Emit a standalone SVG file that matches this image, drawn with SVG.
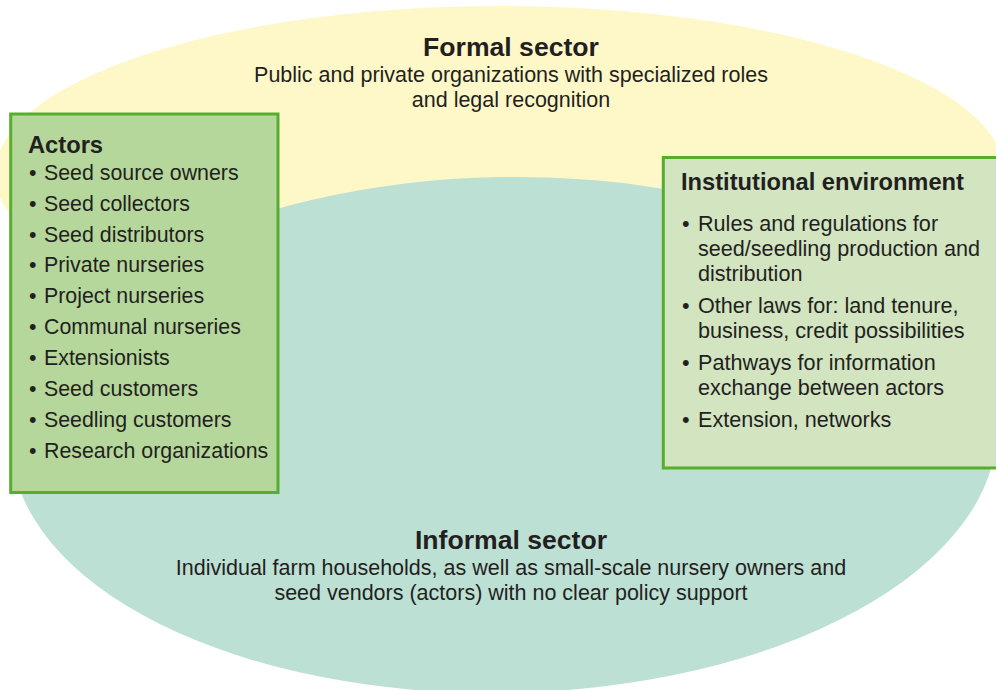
<svg xmlns="http://www.w3.org/2000/svg" width="996" height="690" viewBox="0 0 996 690">
<style>
.title{font-family:"Liberation Sans",Arial,sans-serif;font-weight:bold;font-size:26.6px;fill:#231f20;text-anchor:middle}
.sub{font-family:"Liberation Sans",Arial,sans-serif;font-size:21.5px;fill:#231f20;text-anchor:middle}
.head{font-family:"Liberation Sans",Arial,sans-serif;font-weight:bold;font-size:23.7px;fill:#231f20}
.item{font-family:"Liberation Sans",Arial,sans-serif;font-size:21.6px;fill:#231f20}
.act{font-size:21.35px}
.box{stroke:#56ad2e;stroke-width:3}
</style>
<rect width="996" height="690" fill="#ffffff"/>
<g id="formal-sector">
<ellipse cx="500" cy="174" rx="505" ry="168" fill="#fef8c8"/>
</g>
<g id="informal-sector">
<ellipse cx="504" cy="435" rx="493" ry="258" fill="#bde0d5" transform="rotate(-1 504 435)"/>
<text class="title" x="511" y="549">Informal sector</text>
<text class="sub" x="511" y="575">Individual farm households, as well as small-scale nursery owners and</text>
<text class="sub" x="511" y="600">seed vendors (actors) with no clear policy support</text>
</g>
<g id="formal-sector-label">
<text class="title" x="511" y="56">Formal sector</text>
<text class="sub" x="511" y="82">Public and private organizations with specialized roles</text>
<text class="sub" x="511" y="107">and legal recognition</text>
</g>
<g id="actors">
<rect class="box" x="10.7" y="114" width="267.3" height="378.5" fill="#b5d79b"/>
<text class="head" x="28" y="153">Actors</text>
<text class="item act" y="180"><tspan x="29">•</tspan><tspan x="44">Seed source owners</tspan></text>
<text class="item act" y="211"><tspan x="29">•</tspan><tspan x="44">Seed collectors</tspan></text>
<text class="item act" y="242"><tspan x="29">•</tspan><tspan x="44">Seed distributors</tspan></text>
<text class="item act" y="272"><tspan x="29">•</tspan><tspan x="44">Private nurseries</tspan></text>
<text class="item act" y="303"><tspan x="29">•</tspan><tspan x="44">Project nurseries</tspan></text>
<text class="item act" y="334"><tspan x="29">•</tspan><tspan x="44">Communal nurseries</tspan></text>
<text class="item act" y="365"><tspan x="29">•</tspan><tspan x="44">Extensionists</tspan></text>
<text class="item act" y="396"><tspan x="29">•</tspan><tspan x="44">Seed customers</tspan></text>
<text class="item act" y="427"><tspan x="29">•</tspan><tspan x="44">Seedling customers</tspan></text>
<text class="item act" y="458"><tspan x="29">•</tspan><tspan x="44">Research organizations</tspan></text>
</g>
<g id="institutional-environment">
<rect class="box" x="663.3" y="157.5" width="340" height="310.5" fill="#d2e4c0"/>
<text class="head" x="681" y="190">Institutional environment</text>
<text class="item" y="231"><tspan x="682">•</tspan><tspan x="698">Rules and regulations for</tspan></text>
<text class="item" x="698" y="256">seed/seedling production and</text>
<text class="item" x="698" y="281">distribution</text>
<text class="item" y="313"><tspan x="682">•</tspan><tspan x="698">Other laws for: land tenure,</tspan></text>
<text class="item" x="698" y="338">business, credit possibilities</text>
<text class="item" y="370"><tspan x="682">•</tspan><tspan x="698">Pathways for information</tspan></text>
<text class="item" x="698" y="395">exchange between actors</text>
<text class="item" y="427"><tspan x="682">•</tspan><tspan x="698">Extension, networks</tspan></text>
</g>
<g id="connectors"/>
</svg>
